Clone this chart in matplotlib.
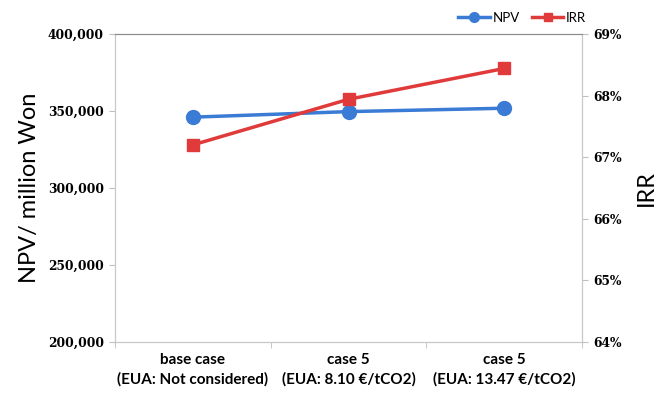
import matplotlib
matplotlib.use("Agg")
import matplotlib.pyplot as plt
from matplotlib.ticker import FuncFormatter, FixedLocator

categories = ["base case\n(EUA: Not considered)", "case 5\n(EUA: 8.10 €/tCO2)", "case 5\n(EUA: 13.47 €/tCO2)"]
npv = [346000, 349600, 351800]
irr = [67.20, 67.94, 68.44]
npv_ticks = [200000, 250000, 300000, 350000, 400000]
irr_ticks = [64, 65, 66, 67, 68, 69]

blue = "#3a7bd5"
red = "#e03a3a"
sans = "Lato"

fig = plt.figure(figsize=(6.66, 3.96), dpi=100)
ax = fig.add_axes([115/666, 1-342/396, (582-115)/666, (342-34)/396])
ax2 = ax.twinx()

x = list(range(len(categories)))
l1, = ax.plot(x, npv, color=blue, lw=2.5, marker="o", ms=10, label="NPV", zorder=3)
l2, = ax2.plot(x, irr, color=red, lw=2.5, marker="s", ms=9, label="IRR", zorder=3)

ax.set_xlim(-0.5, len(categories)-0.5)
ax.set_ylim(200000, 400000)
ax2.set_ylim(64, 69)
ax.set_yticks(npv_ticks)
ax2.set_yticks(irr_ticks)
ax.yaxis.set_major_formatter(FuncFormatter(lambda v, p: f"{int(v):,}"))
ax2.yaxis.set_major_formatter(FuncFormatter(lambda v, p: f"{int(v)}%"))
for lab in ax.get_yticklabels() + ax2.get_yticklabels():
    lab.set_fontfamily("DejaVu Serif"); lab.set_fontweight("bold"); lab.set_fontsize(8.8)

ax.set_xticks(x)
ax.set_xticklabels(categories, fontsize=11, fontweight="bold", family=sans, linespacing=1.45)
ax.tick_params(axis="x", which="major", length=0, pad=8)
ax.xaxis.set_minor_locator(FixedLocator([-0.5, 0.5, 1.5, 2.5]))
ax.tick_params(axis="x", which="minor", length=4, color="#bfbfbf", direction="out")
ax.tick_params(axis="y", length=4, color="#bfbfbf", pad=4)
ax2.tick_params(axis="y", length=4, color="#bfbfbf", pad=4)

for a in (ax, ax2):
    for s in ("left", "right", "bottom"):
        a.spines[s].set_color("#c8c8c8")
    a.spines["top"].set_color("#8c8c8c")

ax.set_ylabel("NPV/ million Won", fontsize=17, family=sans, labelpad=6)
ax2.set_ylabel("IRR", fontsize=17, family=sans, labelpad=10)

fig.legend(handles=[l1, l2], loc="upper right", bbox_to_anchor=(598/666, 1.0), ncol=2,
           frameon=False, prop={"family": sans, "size": 9.5},
           handlelength=2.4, handletextpad=0.2, columnspacing=0.9, markerscale=0.7)

fig.savefig("out.png", dpi=100)
